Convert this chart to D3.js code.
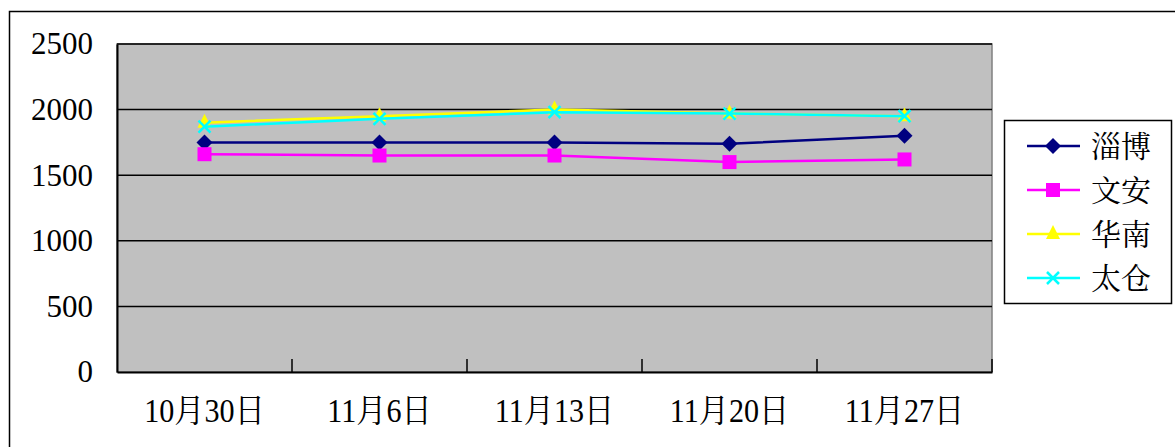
<!DOCTYPE html>
<html><head><meta charset="utf-8">
<script src="https://cdn.jsdelivr.net/npm/d3@7"></script>
<style>
html,body{margin:0;padding:0;background:#fff;}
svg{display:block;}
svg text{font-family:'Liberation Serif','Noto Serif CJK SC',serif;}
</style></head>
<body><svg id="c" width="1175" height="447"></svg>
<script>
const categories = ["10月30日","11月6日","11月13日","11月20日","11月27日"];
const seriesNames = ["淄博","文安","华南","太仓"];
const zibo    = [1750,1750,1750,1740,1800];
const wenan   = [1660,1650,1650,1600,1620];
const huanan  = [1900,1950,2000,1970,1950];
const taicang = [1870,1930,1980,1970,1950];
const yTicks  = [0,500,1000,1500,2000,2500];

const seriesValues = [zibo, wenan, huanan, taicang];
const colors = ["#000080","#FF00FF","#FFFF00","#00FFFF"];
const markers = ["diamond","square","triangle","cross"];
const FONT = "'Liberation Serif','Noto Serif CJK SC',serif";

const svg = d3.select("#c");
const L=117, R=992, T=44, B=372;

svg.append("rect").attr("x",9.5).attr("y",11.5).attr("width",1200).attr("height",500)
  .attr("fill","#fff").attr("stroke","#000").attr("stroke-width",1.5);

const x = d3.scaleBand().domain(categories).range([L,R]).padding(0);
const y = d3.scaleLinear().domain([0,2500]).range([B,T]);

svg.append("rect").attr("x",L).attr("y",T).attr("width",R-L).attr("height",B-T)
  .attr("fill","#C0C0C0").attr("stroke","#808080").attr("stroke-width",1.5);

svg.append("g").selectAll("line").data(yTicks.filter(d=>d>0)).join("line")
  .attr("x1",L).attr("x2",R).attr("y1",d=>y(d)).attr("y2",d=>y(d))
  .attr("stroke","#000").attr("stroke-width",1.5);

const yAxis = d3.axisLeft(y).tickValues(yTicks).tickSize(0).tickPadding(24).tickFormat(d3.format("d"));
const gy = svg.append("g").attr("transform",`translate(${L},0)`).call(yAxis)
  .attr("font-family",null).attr("font-size",null);
gy.select(".domain").attr("stroke","#000").attr("stroke-width",2);
gy.selectAll("text").attr("fill","#000")
  .style("font-family",FONT).style("font-size","31px");

const gx = svg.append("g").attr("transform",`translate(0,${B})`)
  .call(d3.axisBottom(x).tickSize(0).tickPadding(0))
  .attr("font-family",null).attr("font-size",null);
gx.select(".domain").attr("stroke","#000").attr("stroke-width",2);
gx.selectAll(".tick text").attr("y",0).attr("dy",0)
  .attr("transform","translate(0,50) scale(1.04,1.15)")
  .attr("fill","#000").style("font-family",FONT).style("font-size","29px");
const bounds = categories.map(c=>x(c)).concat([x(categories[categories.length-1])+x.bandwidth()]);
svg.append("g").selectAll("line").data(bounds.slice(1)).join("line")
  .attr("x1",d=>d).attr("x2",d=>d).attr("y1",B-13).attr("y2",B)
  .attr("stroke","#000").attr("stroke-width",1.5);

function drawMarker(g, type, color, cx, cy){
  if(type==="diamond"){
    g.append("path").attr("d",`M${cx},${cy-8}L${cx+8},${cy}L${cx},${cy+8}L${cx-8},${cy}Z`).attr("fill",color);
  } else if(type==="square"){
    g.append("rect").attr("x",cx-7).attr("y",cy-7).attr("width",14).attr("height",14).attr("fill",color);
  } else if(type==="triangle"){
    g.append("path").attr("d",`M${cx},${cy-9}L${cx+7},${cy+5}L${cx-7},${cy+5}Z`).attr("fill",color);
  } else {
    g.append("path").attr("d",`M${cx-6},${cy-6}L${cx+6},${cy+6}M${cx+6},${cy-6}L${cx-6},${cy+6}`)
     .attr("stroke",color).attr("stroke-width",2.5).attr("fill","none");
  }
}

const line = d3.line().x((d,i)=>x(categories[i])+x.bandwidth()/2).y(d=>y(d));
const plotG = svg.append("g");
seriesValues.forEach((vals,si)=>{
  plotG.append("path").datum(vals).attr("d",line).attr("fill","none")
    .attr("stroke",colors[si]).attr("stroke-width",2.5);
  vals.forEach((v,i)=>drawMarker(plotG, markers[si], colors[si], x(categories[i])+x.bandwidth()/2, y(v)));
});

const lg = svg.append("g");
lg.append("rect").attr("x",1004.5).attr("y",120.5).attr("width",167).attr("height",183)
  .attr("fill","#fff").attr("stroke","#000").attr("stroke-width",1.5);
seriesNames.forEach((n,si)=>{
  const cy = 146 + si*44;
  lg.append("line").attr("x1",1027).attr("x2",1080).attr("y1",cy).attr("y2",cy)
    .attr("stroke",colors[si]).attr("stroke-width",2.5);
  drawMarker(lg, markers[si], colors[si], 1053, cy);
  lg.append("text").attr("x",1091).attr("y",cy).attr("dy","0.36em")
    .attr("fill","#000").style("font-family",FONT).style("font-size","30px").text(n);
});
</script></body></html>
